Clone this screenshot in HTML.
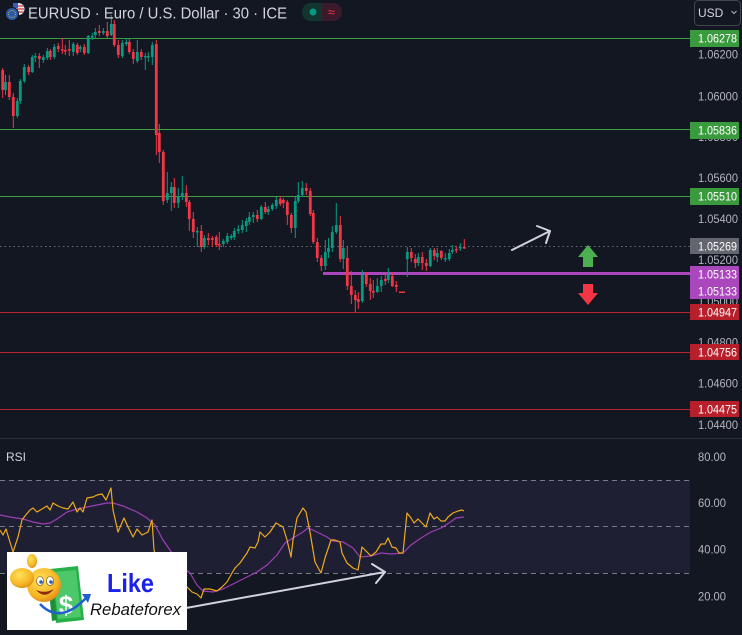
<!DOCTYPE html>
<html><head><meta charset="utf-8"><style>
html,body{margin:0;padding:0;background:#131722;}
svg{display:block;font-family:"Liberation Sans",sans-serif;}
</style></head><body>
<svg width="742" height="635" viewBox="0 0 742 635" xmlns="http://www.w3.org/2000/svg">
<rect width="742" height="635" fill="#131722"/>

<!-- horizontal level lines -->
<g stroke-width="1">
<line x1="0" y1="38.5" x2="690" y2="38.5" stroke="#3f9d42"/>
<line x1="0" y1="129.5" x2="690" y2="129.5" stroke="#3f9d42"/>
<line x1="0" y1="196.5" x2="690" y2="196.5" stroke="#3f9d42"/>
<line x1="0" y1="312.5" x2="690" y2="312.5" stroke="#b8242f"/>
<line x1="0" y1="352.5" x2="690" y2="352.5" stroke="#b8242f"/>
<line x1="0" y1="409.5" x2="690" y2="409.5" stroke="#b8242f"/>
<line x1="0" y1="246.5" x2="690" y2="246.5" stroke="#6b6e7a" stroke-dasharray="1.5 3"/>
</g>
<line x1="323" y1="273.5" x2="690" y2="273.5" stroke="#ab47bc" stroke-width="3"/>

<!-- candles -->
<path stroke="#089981" stroke-width="1" fill="none" d="M5.5 75V95 M17.3 98V118 M20.3 79V104 M24.3 64V83 M32.3 55V73 M35.3 53V62 M43.3 55V63 M47.3 48V60 M54.3 44V59 M73.3 42V56 M80.3 45V52 M88.3 35V54 M92.3 33V40 M95.3 28V38 M103.3 28V35 M111.3 15V36 M122.3 40V58 M126.3 38V46 M137.3 40V63 M145.3 53V70 M148.3 52V62 M152.3 42V65 M167.3 172V203 M171.3 182V211 M178.3 188V208 M182.3 176V200 M197.3 227V247 M204.3 235V249 M223.3 239V247 M227.3 233V244 M231.3 234V240 M234.3 228V240 M238.3 225V234 M242.3 220V233 M246.3 218V232 M249.3 212V225 M253.3 212V223 M261.3 205V220 M268.3 206V215 M272.3 203V211 M276.3 197V209 M295.3 197V238 M298.3 182V203 M302.3 181V197 M325.3 240V270 M328.5 238V258 M332.3 226V252 M336.3 203V234 M343.3 240V269 M362.3 270V303 M377.3 278V293 M381.3 276V292 M388.3 268V283 M407.3 247V277 M418.3 253V266 M430.3 248V267 M437.3 248V262 M445.3 253V262 M449.3 249V261 M452.3 245V254 M460.3 243V251"/>
<path fill="#089981" d="M4.1 82h2.8v8h-2.8z M15.9 101h2.8v15h-2.8z M18.9 81h2.8v20h-2.8z M22.9 67h2.8v14h-2.8z M30.9 57h2.8v15h-2.8z M33.9 56h2.8v1.5h-2.8z M41.9 57h2.8v3h-2.8z M45.9 51h2.8v7h-2.8z M52.9 47h2.8v10h-2.8z M71.9 44h2.8v8h-2.8z M78.9 47h2.8v2h-2.8z M86.9 36h2.8v17h-2.8z M90.9 36h2.8v1.5h-2.8z M93.9 32h2.8v3h-2.8z M101.9 31h2.8v2h-2.8z M109.9 24h2.8v11h-2.8z M120.9 43h2.8v13h-2.8z M124.9 42h2.8v2h-2.8z M135.9 52h2.8v9h-2.8z M143.9 56h2.8v1.5h-2.8z M146.9 56h2.8v1.5h-2.8z M150.9 45h2.8v12h-2.8z M165.9 193h2.8v7h-2.8z M169.9 187h2.8v6h-2.8z M176.9 196h2.8v7h-2.8z M180.9 193h2.8v3h-2.8z M195.9 231h2.8v1.5h-2.8z M202.9 238h2.8v9h-2.8z M221.9 241h2.8v3h-2.8z M225.9 236h2.8v6h-2.8z M229.9 236h2.8v2h-2.8z M232.9 231h2.8v6h-2.8z M236.9 229h2.8v2h-2.8z M240.9 225h2.8v5h-2.8z M244.9 221h2.8v5h-2.8z M247.9 217h2.8v5h-2.8z M251.9 215h2.8v2h-2.8z M259.9 207h2.8v12h-2.8z M266.9 209h2.8v3h-2.8z M270.9 205h2.8v4h-2.8z M274.9 200h2.8v6h-2.8z M293.9 201h2.8v27h-2.8z M296.9 195h2.8v6h-2.8z M300.9 188h2.8v7h-2.8z M323.9 252h2.8v14h-2.8z M327.1 248h2.8v4h-2.8z M330.9 232h2.8v16h-2.8z M334.9 225h2.8v7h-2.8z M341.9 248h2.8v11h-2.8z M360.9 275h2.8v26h-2.8z M375.9 286h2.8v6h-2.8z M379.9 280h2.8v6h-2.8z M386.9 275h2.8v5h-2.8z M405.9 252h2.8v7h-2.8z M416.9 257h2.8v6h-2.8z M428.9 250h2.8v16h-2.8z M435.9 253h2.8v4h-2.8z M443.9 258h2.8v1.5h-2.8z M447.9 253h2.8v6h-2.8z M450.9 250h2.8v2h-2.8z M458.9 247h2.8v1.5h-2.8z"/>
<path stroke="#f23645" stroke-width="1" fill="none" d="M2.7 68V98 M9.3 75V100 M13.3 93V128 M28.7 65V75 M39.3 53V68 M50.3 49V60 M58.3 43V52 M62.3 38V54 M65.3 45V55 M69.3 40V56 M77.3 43V55 M84.3 44V55 M99.3 25V36 M107.3 22V38 M114.3 20V47 M118.3 40V58 M129.3 39V54 M133.3 49V64 M141.3 49V60 M156.3 40V155 M159.3 124V163 M163.3 150V205 M174.3 178V208 M186.3 185V207 M189.3 200V231 M193.3 212V238 M201.3 225V252 M208.3 233V245 M212.3 236V247 M216.3 235V247 M219.3 232V250 M257.3 210V222 M265.3 202V214 M280.3 196V206 M283.3 198V208 M287.3 200V225 M291.3 213V233 M306.3 183V195 M310.3 188V216 M313.3 210V244 M317.3 238V262 M321.3 255V271 M340.3 216V262 M347.3 247V290 M351.3 271V304 M355.3 290V312 M358.3 292V309 M366.3 272V287 M370.3 278V300 M373.3 280V298 M385.3 272V285 M392.3 272V287 M396.3 281V292 M411.3 248V262 M415.3 254V268 M422.3 252V270 M426.3 259V271 M434.3 248V260 M441.3 250V260 M456.3 246V253 M464.3 239V249"/>
<path fill="#f23645" d="M1.3 70h2.8v20h-2.8z M7.9 82h2.8v15h-2.8z M11.9 97h2.8v19h-2.8z M27.3 67h2.8v5h-2.8z M37.9 56h2.8v3h-2.8z M48.9 51h2.8v6h-2.8z M56.9 46h2.8v3h-2.8z M60.9 49h2.8v1.5h-2.8z M63.9 50h2.8v1.5h-2.8z M67.9 49h2.8v1.5h-2.8z M75.9 45h2.8v8h-2.8z M82.9 47h2.8v6h-2.8z M97.9 31h2.8v2h-2.8z M105.9 31h2.8v5h-2.8z M112.9 24h2.8v21h-2.8z M116.9 45h2.8v10h-2.8z M127.9 42h2.8v10h-2.8z M131.9 52h2.8v7h-2.8z M139.9 52h2.8v5h-2.8z M154.9 44h2.8v91h-2.8z M157.9 133h2.8v19h-2.8z M161.9 152h2.8v49h-2.8z M172.9 187h2.8v16h-2.8z M184.9 193h2.8v9h-2.8z M187.9 202h2.8v17h-2.8z M191.9 219h2.8v13h-2.8z M199.9 231h2.8v16h-2.8z M206.9 238h2.8v2h-2.8z M210.9 238h2.8v2h-2.8z M214.9 237h2.8v8h-2.8z M217.9 244h2.8v1.5h-2.8z M255.9 215h2.8v4h-2.8z M263.9 207h2.8v5h-2.8z M278.9 199h2.8v5h-2.8z M281.9 200h2.8v3h-2.8z M285.9 202h2.8v13h-2.8z M289.9 215h2.8v13h-2.8z M304.9 188h2.8v3h-2.8z M308.9 191h2.8v23h-2.8z M311.9 213h2.8v29h-2.8z M315.9 242h2.8v16h-2.8z M319.9 258h2.8v8h-2.8z M338.9 225h2.8v34h-2.8z M345.9 258h2.8v28h-2.8z M349.9 286h2.8v9h-2.8z M353.9 295h2.8v5h-2.8z M356.9 299h2.8v3h-2.8z M364.9 275h2.8v9h-2.8z M368.9 284h2.8v7h-2.8z M371.9 291h2.8v1.5h-2.8z M383.9 279h2.8v2h-2.8z M390.9 276h2.8v10h-2.8z M394.9 285h2.8v2h-2.8z M399 291.5h6v1.5h-6z M409.9 252h2.8v6h-2.8z M413.9 259h2.8v4h-2.8z M420.9 257h2.8v6h-2.8z M424.9 263h2.8v3h-2.8z M432.9 250h2.8v6h-2.8z M439.9 251h2.8v7h-2.8z M454.9 249h2.8v1.5h-2.8z M462.9 247h2.8v1.5h-2.8z"/>

<!-- drawn arrows on price chart -->
<g stroke="#d1d4dc" stroke-width="2" fill="none" stroke-linecap="round" stroke-linejoin="round">
<line x1="512" y1="250" x2="550" y2="231"/>
<polyline points="537,226 550,231 546,243"/>
</g>
<path fill="#4caf50" d="M588 245 L598 257 L593 257 L593 267 L583 267 L583 257 L578 257 Z"/>
<path fill="#f23645" d="M583 284 L593 284 L593 293 L598 293 L588 305 L578 293 L583 293 Z"/>

<!-- header -->
<circle cx="18.5" cy="9" r="6" fill="#e8e8ee"/>
<path d="M13 6h11M13 9h11M13 12h11" stroke="#d33a3a" stroke-width="1.2"/>
<rect x="13" y="3" width="5" height="5" fill="#3a5bb8"/>
<circle cx="12" cy="14" r="6.5" fill="#2c5aa8" stroke="#131722" stroke-width="1"/>
<circle cx="12" cy="14" r="3.5" fill="none" stroke="#e6c431" stroke-width="1" stroke-dasharray="0.8 1.2"/>
<text x="28" y="18.5" font-size="15.5" fill="#d1d4dc" textLength="259" lengthAdjust="spacingAndGlyphs">EURUSD · Euro / U.S. Dollar · 30 · ICE</text>
<rect x="302" y="3" width="40" height="18" rx="9" fill="#123530"/>
<path d="M322 3h11a9 9 0 0 1 0 18h-11z" fill="#3a1a2b"/>
<circle cx="313" cy="12" r="3.5" fill="#089981"/>
<text x="331.5" y="16.5" font-size="13" fill="#f23645" text-anchor="middle">≈</text>

<!-- USD selector -->
<rect x="694.5" y="0.5" width="46" height="25" rx="4" fill="#131722" stroke="#434651"/>
<text x="698" y="17" font-size="12" fill="#d1d4dc">USD</text>
<polyline points="731.5,11 734,13.5 736.5,11" fill="none" stroke="#b2b5be" stroke-width="1"/>

<!-- price axis tick labels -->
<g font-size="12" fill="#b2b5be">
<text x="698" y="58.5" textLength="40" lengthAdjust="spacingAndGlyphs">1.06200</text>
<text x="698" y="100.5" textLength="40" lengthAdjust="spacingAndGlyphs">1.06000</text>
<text x="698" y="141" textLength="40" lengthAdjust="spacingAndGlyphs">1.05800</text>
<text x="698" y="182" textLength="40" lengthAdjust="spacingAndGlyphs">1.05600</text>
<text x="698" y="223" textLength="40" lengthAdjust="spacingAndGlyphs">1.05400</text>
<text x="698" y="264" textLength="40" lengthAdjust="spacingAndGlyphs">1.05200</text>
<text x="698" y="305.5" textLength="40" lengthAdjust="spacingAndGlyphs">1.05000</text>
<text x="698" y="346.5" textLength="40" lengthAdjust="spacingAndGlyphs">1.04800</text>
<text x="698" y="387.5" textLength="40" lengthAdjust="spacingAndGlyphs">1.04600</text>
<text x="698" y="429" textLength="40" lengthAdjust="spacingAndGlyphs">1.04400</text>
</g>

<!-- price labels -->
<rect x="690" y="30" width="49" height="17" fill="#3a9a3e"/>
<rect x="690" y="122" width="49" height="17" fill="#3a9a3e"/>
<rect x="690" y="188" width="49" height="17" fill="#3a9a3e"/>
<rect x="690" y="238" width="49" height="16" fill="#63666f"/>
<rect x="690" y="266" width="49" height="33" fill="#ab47bc"/>
<rect x="690" y="304" width="49" height="16" fill="#b71f2b"/>
<rect x="690" y="344" width="49" height="16" fill="#b71f2b"/>
<rect x="690" y="401" width="49" height="16" fill="#b71f2b"/>
<g font-size="12" fill="#ffffff">
<text x="698" y="42.5" textLength="39" lengthAdjust="spacingAndGlyphs">1.06278</text>
<text x="698" y="134.5" textLength="39" lengthAdjust="spacingAndGlyphs">1.05836</text>
<text x="698" y="200.5" textLength="39" lengthAdjust="spacingAndGlyphs">1.05510</text>
<text x="698" y="250.5" textLength="39" lengthAdjust="spacingAndGlyphs">1.05269</text>
<text x="698" y="278.5" textLength="39" lengthAdjust="spacingAndGlyphs">1.05133</text>
<text x="698" y="295.5" textLength="39" lengthAdjust="spacingAndGlyphs">1.05133</text>
<text x="698" y="316.5" textLength="39" lengthAdjust="spacingAndGlyphs">1.04947</text>
<text x="698" y="356.5" textLength="39" lengthAdjust="spacingAndGlyphs">1.04756</text>
<text x="698" y="413.5" textLength="39" lengthAdjust="spacingAndGlyphs">1.04475</text>
</g>

<!-- panel separator -->
<line x1="0" y1="438.5" x2="742" y2="438.5" stroke="#2a2e39" stroke-width="1"/>

<!-- RSI panel -->
<text x="6" y="461" font-size="12" fill="#d1d4dc">RSI</text>
<rect x="0" y="480" width="690" height="93" fill="#1e1f33"/>
<g stroke="#787b86" stroke-width="1" stroke-dasharray="5 4">
<line x1="0" y1="480.5" x2="690" y2="480.5"/>
<line x1="0" y1="526.5" x2="690" y2="526.5"/>
<line x1="0" y1="573.5" x2="690" y2="573.5"/>
</g>
<g font-size="12" fill="#b2b5be">
<text x="698" y="461" textLength="28" lengthAdjust="spacingAndGlyphs">80.00</text>
<text x="698" y="507" textLength="28" lengthAdjust="spacingAndGlyphs">60.00</text>
<text x="698" y="553.5" textLength="28" lengthAdjust="spacingAndGlyphs">40.00</text>
<text x="698" y="600.5" textLength="28" lengthAdjust="spacingAndGlyphs">20.00</text>
</g>
<polyline fill="none" stroke="#9c3fb5" stroke-width="1.2" points="0,515 10,517 23,519 33,522 43,524 50,523 57,519 67,512 77,509 87,507 97,505 107,503 113,503 123,506 137,512 147,518 155,525 163,540 172,553 180,565 190,573 197,585 203,591 213,592 223,589 233,584 247,577 257,572 267,565 277,555 285,543 293,538 303,532 308,528 317,532 327,537 333,541 343,542 353,548 360,557 371,556 381,553 391,554 403,553 411,545 421,538 431,532 441,528 449,523 456,518 464,517"/>
<polyline fill="none" stroke="#eeaa1c" stroke-width="1.2" stroke-linejoin="round" points="0,530 3,535 6,529 13,552 18,537 22,520 25,516 30,510 33,508 37,512 42,509 47,506 50,510 53,503 58,506 63,508 68,509 73,502 77,512 80,508 83,512 87,498 93,497 97,495 102,494 106,500 111,488 113,510 118,532 124,518 128,527 133,537 137,529 142,535 148,532 152,520 154,550 160,570 170,585 180,582 187,587 192,592 197,594 201,598 204,589 210,589 217,591 222,587 227,582 232,573 235,568 240,563 247,553 250,547 255,548 258,542 260,532 265,537 270,532 276,523 283,527 287,540 291,557 293,540 297,518 303,508 306,512 310,532 315,562 321,573 325,558 331,540 335,540 340,542 342,553 347,563 353,568 358,570 362,547 367,552 371,556 376,552 381,544 385,544 388,538 392,547 396,548 399,553 403,553 407,513 411,518 414,523 418,519 422,523 426,527 430,513 434,519 437,517 441,521 445,521 448,517 453,513 458,511 462,510 464,511"/>
<g stroke="#d1d4dc" stroke-width="2" fill="none" stroke-linecap="round" stroke-linejoin="round">
<line x1="175" y1="610" x2="385" y2="572"/>
<polyline points="372,564 385,572 376,583"/>
</g>

<!-- logo -->
<rect x="7" y="552" width="180" height="78" fill="#ffffff"/>
<defs>
<radialGradient id="face" cx="0.4" cy="0.35" r="0.7">
<stop offset="0" stop-color="#ffe25a"/><stop offset="0.7" stop-color="#f6b422"/><stop offset="1" stop-color="#d9861a"/>
</radialGradient>
</defs>
<path d="M50 569 L78 566 L84 620 L56 623 Z" fill="#27b04a"/>
<path d="M53 572 L76 570 L81 617 L58 619 Z" fill="#4cc86a"/>
<path d="M47 572 L52 572 L57 620 L52 621 Z" fill="#1c8f3a"/>
<text x="66" y="614" font-size="26" font-weight="bold" fill="#ffffff" text-anchor="middle">$</text>
<path d="M40 604 Q60 625 86 598" fill="none" stroke="#1f5fd0" stroke-width="2.5"/>
<path d="M82 594 L91 594 L88 603 Z" fill="#1f5fd0"/>
<circle cx="44" cy="585" r="17" fill="url(#face)"/>
<ellipse cx="40" cy="581" rx="3.5" ry="4.5" fill="#ffffff" stroke="#6a4010" stroke-width="0.6"/>
<ellipse cx="50" cy="581" rx="3.5" ry="4.5" fill="#ffffff" stroke="#6a4010" stroke-width="0.6"/>
<circle cx="41" cy="582" r="1.8" fill="#2a5fb0"/>
<circle cx="51" cy="582" r="1.8" fill="#2a5fb0"/>
<path d="M36 590 Q45 600 54 589 Q45 594 36 590 Z" fill="#8a2a10"/>
<ellipse cx="22" cy="578" rx="12" ry="10" fill="url(#face)"/>
<ellipse cx="32" cy="561" rx="5" ry="7" fill="url(#face)"/>
<text x="107" y="592" font-size="26" font-weight="bold" fill="#1a22e8" textLength="47" lengthAdjust="spacingAndGlyphs">Like</text>
<text x="90" y="615" font-size="17" font-style="italic" fill="#111111" textLength="91" lengthAdjust="spacingAndGlyphs">Rebateforex</text>
</svg>
</body></html>
